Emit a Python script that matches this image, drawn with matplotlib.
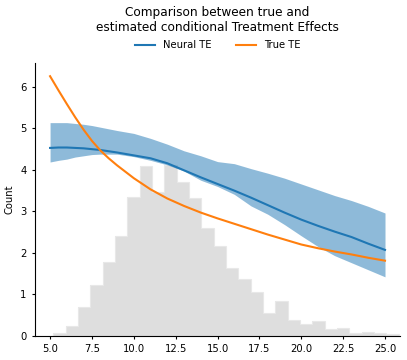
import numpy as np
import matplotlib
matplotlib.use("Agg")
import matplotlib.pyplot as plt

# x grid of the treatment-effect curves
x_vals = [5, 5.5, 6, 6.5, 7, 7.5, 8, 8.5, 9, 10, 11, 12, 13, 14, 15, 16, 17, 18, 19, 20, 21, 22, 23, 24, 25]

true_te = [6.26, 5.92, 5.59, 5.27, 4.97, 4.70, 4.47, 4.28, 4.11, 3.80, 3.53, 3.31, 3.13, 2.97, 2.83,
           2.70, 2.57, 2.44, 2.32, 2.20, 2.11, 2.03, 1.96, 1.88, 1.81]
neural_te = [4.53, 4.54, 4.54, 4.53, 4.52, 4.50, 4.48, 4.45, 4.42, 4.35, 4.28, 4.16, 3.99, 3.82, 3.66,
             3.50, 3.33, 3.15, 2.97, 2.80, 2.65, 2.51, 2.38, 2.22, 2.07]
neural_hi = [5.14, 5.14, 5.14, 5.12, 5.10, 5.07, 5.03, 4.99, 4.95, 4.88, 4.76, 4.62, 4.46, 4.34, 4.20,
             4.15, 4.03, 3.92, 3.80, 3.66, 3.52, 3.38, 3.26, 3.12, 2.96]
neural_lo = [4.19, 4.23, 4.26, 4.31, 4.34, 4.37, 4.38, 4.38, 4.38, 4.32, 4.23, 4.12, 3.97, 3.75, 3.60,
             3.41, 3.13, 2.93, 2.68, 2.41, 2.15, 1.93, 1.76, 1.59, 1.42]

# histogram of the covariate
hist_start = 5.2
hist_width = 0.736
hist_counts = [0.07, 0.24, 0.70, 1.23, 1.78, 2.40, 3.34, 4.09, 3.46, 4.11, 3.70, 3.31, 2.60, 2.16,
               1.64, 1.37, 1.05, 0.55, 0.84, 0.39, 0.28, 0.35, 0.17, 0.19, 0.065, 0.10, 0.06, 0.03]

fig = plt.figure(figsize=(4.07, 3.6), dpi=100)
ax = fig.add_axes([0.086, 0.0675, 0.897, 0.7565])

edges = hist_start + hist_width * np.arange(len(hist_counts) + 1)
ax.stairs(hist_counts, edges, fill=True, color='#dedede', zorder=1)
ax.stairs(hist_counts, edges, color='#e8e8e8', linewidth=0.8, zorder=1.1)

ax.fill_between(x_vals, neural_lo, neural_hi, color='#1f77b4', alpha=0.5, linewidth=0, zorder=2)
ax.plot(x_vals, neural_te, color='#1f77b4', lw=1.5, label='Neural TE', zorder=3)
ax.plot(x_vals, true_te, color='#ff7f0e', lw=1.5, label='True TE', zorder=3)

ax.set_xlim(4.1, 25.9)
ax.set_ylim(0, 6.57)
ax.set_xticks([5.0, 7.5, 10.0, 12.5, 15.0, 17.5, 20.0, 22.5, 25.0])
ax.set_yticks(range(0, 7))
ax.tick_params(labelsize=7.2, length=2.5)
ax.set_ylabel("Count", fontsize=7.2)
for s in ['top', 'right']:
    ax.spines[s].set_visible(False)

ax.legend(loc='center', bbox_to_anchor=(0.5, 1.067), ncol=2, frameon=False,
          fontsize=7.2, columnspacing=2.5)
fig.text(0.5345, 0.944, "Comparison between true and\nestimated conditional Treatment Effects",
         ha='center', va='center', fontsize=8.7, multialignment='center')

fig.savefig("out.png", dpi=100)
